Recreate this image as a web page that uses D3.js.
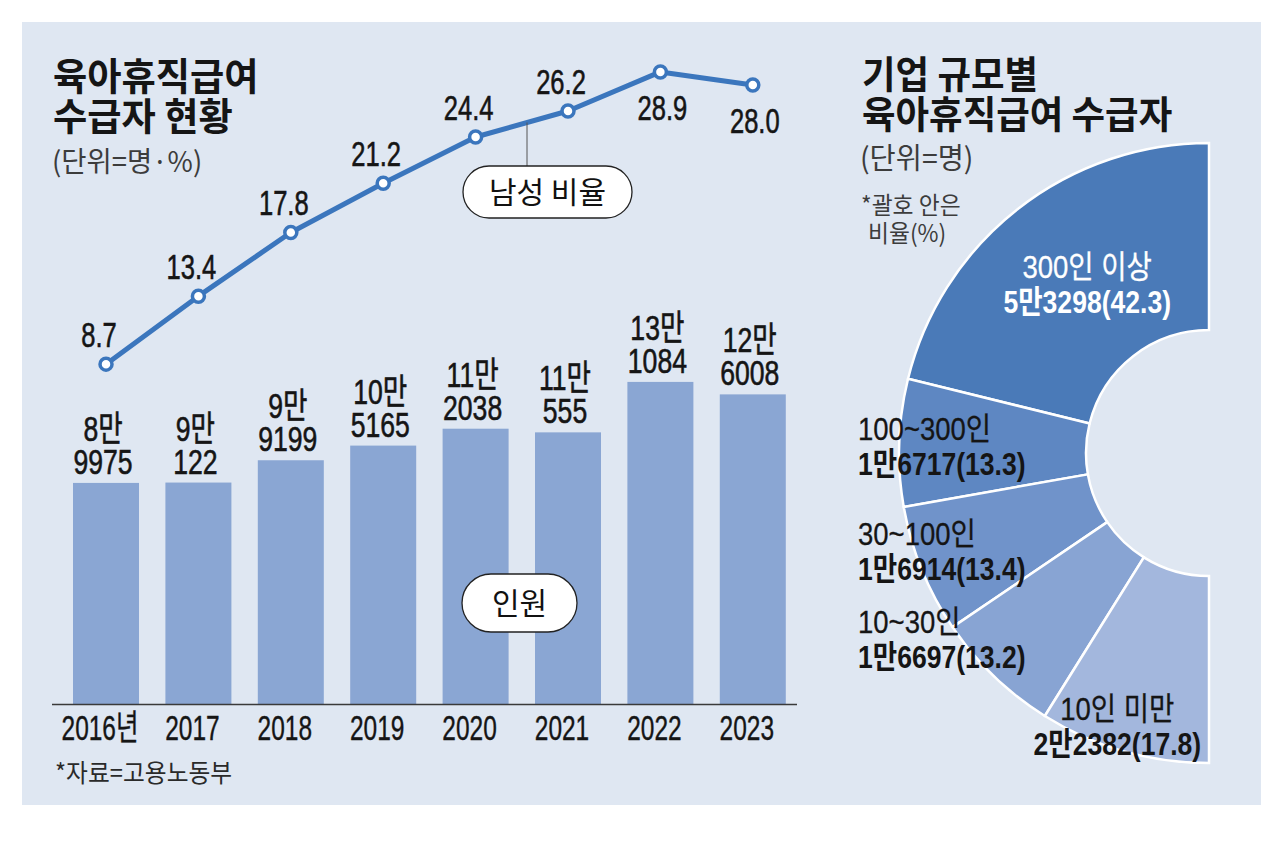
<!doctype html>
<html>
<head>
<meta charset="utf-8">
<script src="https://cdn.jsdelivr.net/npm/d3@7"></script>
<style>
  body { margin: 0; background: #fff; }
  svg { display: block; }
</style>
</head>
<body>
<script>
const years = ['2016년', '2017', '2018', '2019', '2020', '2021', '2022', '2023']
const recipients = [89975, 90122, 99199, 105165, 112038, 110555, 131084, 126008]
const maleShare = [8.7, 13.4, 17.8, 21.2, 24.4, 26.2, 28.9, 28.0]

const sizeGroups = ['300인 이상', '100~300인', '30~100인', '10~30인', '10인 미만']
const sizeCounts = [53298, 16717, 16914, 16697, 22382]
const sizeShares = [42.3, 13.3, 13.4, 13.2, 17.8]
const sizeColors = ['#4a7ab8', '#5e87c2', '#7093ca', '#88a4d3', '#a3b7dd']

const W = 1280, H = 865
const NUM = '"Liberation Sans", "Noto Sans CJK KR", sans-serif'
const KR = '"Noto Sans CJK KR", sans-serif'

const svg = d3.select('body').append('svg').attr('width', W).attr('height', H)

svg.append('rect')
  .attr('x', 22).attr('y', 22).attr('width', 1239).attr('height', 783)
  .attr('fill', '#dfe7f2')

// text helper: condensed look through horizontal scaling
function label (g, x, y, str, o = {}) {
  const fill = o.fill || '#151515'
  return g.append('text')
    .attr('transform', `translate(${x},${y}) scale(${o.sx || 1},1)`)
    .attr('text-anchor', o.anchor || 'middle')
    .attr('font-family', o.family || NUM)
    .attr('font-size', o.size || 30)
    .attr('font-weight', o.weight || 400)
    .attr('fill', fill)
    .attr('stroke', o.heavy ? fill : 'none')
    .attr('stroke-width', o.heavy || 0)
    .text(str)
}

function manFormat (v) {
  const man = Math.floor(v / 10000)
  const rest = v % 10000
  return [`${man}만`, `${rest}`]
}

// ---------- left: bars + line ----------
const left = svg.append('g')

const x = d3.scaleBand()
  .domain(years)
  .range([59.8, 799])
  .paddingInner(0.2857)
  .paddingOuter(0.143)
const bw = x.bandwidth()

const yBar = d3.scaleLinear().domain([0, 140000]).range([704, 360])
const yLine = d3.scaleLinear().domain([0, 30]).range([490, 56])

left.selectAll('rect.bar')
  .data(recipients)
  .join('rect')
  .attr('class', 'bar')
  .attr('x', (d, i) => x(years[i]))
  .attr('y', d => yBar(d))
  .attr('width', bw)
  .attr('height', d => yBar(0) - yBar(d))
  .attr('fill', '#8aa6d3')

left.append('line')
  .attr('x1', 52).attr('x2', 797)
  .attr('y1', yBar(0) + 0.5).attr('y2', yBar(0) + 0.5)
  .attr('stroke', '#3a3a3a').attr('stroke-width', 1.6)

recipients.forEach((d, i) => {
  const cx = x(years[i]) + bw / 2
  const [a, b] = manFormat(d)
  label(left, cx - 3, yBar(d) - 42, a, { size: 35, sx: 0.76, heavy: 0.6 })
  label(left, cx - 3, yBar(d) - 9, b, { size: 35, sx: 0.76, heavy: 0.6 })
  label(left, cx - 6, 740, years[i], { size: 35, sx: 0.7, heavy: 0.4 })
})

const lineGen = d3.line()
  .x((d, i) => x(years[i]) + bw / 2)
  .y(d => yLine(d))

left.append('path')
  .datum(maleShare)
  .attr('d', lineGen)
  .attr('fill', 'none')
  .attr('stroke', '#3b76bd')
  .attr('stroke-width', 5)
  .attr('stroke-linejoin', 'round')

// leader line for the "남성 비율" tag, hooked between 2020 and 2021
const tagX = 527
const i0 = 4, i1 = 5
const x0 = x(years[i0]) + bw / 2, x1 = x(years[i1]) + bw / 2
const tagLineY = yLine(maleShare[i0] + (maleShare[i1] - maleShare[i0]) * (tagX - x0) / (x1 - x0))
left.append('line')
  .attr('x1', tagX).attr('x2', tagX)
  .attr('y1', tagLineY).attr('y2', 166)
  .attr('stroke', '#555').attr('stroke-width', 1)

left.selectAll('circle.pt')
  .data(maleShare)
  .join('circle')
  .attr('class', 'pt')
  .attr('cx', (d, i) => x(years[i]) + bw / 2)
  .attr('cy', d => yLine(d))
  .attr('r', 6)
  .attr('fill', '#fff')
  .attr('stroke', '#3b76bd')
  .attr('stroke-width', 3.5)

maleShare.forEach((d, i) => {
  const cx = x(years[i]) + bw / 2
  const below = i >= 6
  const ty = below ? yLine(d) + 48 : yLine(d) - 17
  label(left, cx + (below ? 2 : -7), ty, d.toFixed(1), { size: 35, sx: 0.73, heavy: 0.6 })
})

function pill (g, px, py, w, h, str) {
  g.append('rect')
    .attr('x', px).attr('y', py).attr('width', w).attr('height', h)
    .attr('rx', h / 2)
    .attr('fill', '#fff').attr('stroke', '#222').attr('stroke-width', 1.3)
  label(g, px + w / 2, py + h / 2 + 11, str, { family: KR, size: 30, fill: '#111' })
}
pill(left, 463, 166, 169, 52, '남성 비율')
pill(left, 462, 574, 115, 58, '인원')

label(left, 53, 90, '육아휴직급여', { family: KR, size: 38, weight: 700, sx: 0.98, anchor: 'start' })
label(left, 53, 130, '수급자 현황', { family: KR, size: 38, weight: 700, sx: 0.98, anchor: 'start' })
label(left, 52, 172, '(단위=명·%)', { family: KR, size: 28, sx: 0.98, anchor: 'start', fill: '#3c3c3c' })
label(left, 55, 782, '*자료=고용노동부', { family: KR, size: 25, sx: 0.95, anchor: 'start', fill: '#2a2a2a' })

// ---------- right: half donut ----------
const right = svg.append('g')
const cx = 1209, cy = 453
const outer = 310, inner = 123

const pie = d3.pie().sort(null).startAngle(0).endAngle(-Math.PI)
const arcs = pie(sizeCounts)
const arc = d3.arc().innerRadius(inner).outerRadius(outer)

const donut = right.append('g').attr('transform', `translate(${cx},${cy})`)
donut.selectAll('path')
  .data(arcs)
  .join('path')
  .attr('d', arc)
  .attr('fill', (d, i) => sizeColors[i])
  .attr('stroke', '#fff')
  .attr('stroke-width', 2.5)

arcs.forEach((a, i) => {
  const mid = (a.startAngle + a.endAngle) / 2
  let lx, ly, anchor
  if (i === 0 || i === arcs.length - 1) {
    const r = i === 0 ? 217 : 282
    lx = cx + r * Math.sin(mid) + (i === 0 ? 12 : -14)
    ly = cy - r * Math.cos(mid)
    anchor = 'middle'
  } else {
    lx = cx - outer - 41
    ly = cy - 255 * Math.cos(mid)
    anchor = 'start'
  }
  const fill = i === 0 ? '#fff' : '#151515'
  const [m, r] = manFormat(sizeCounts[i])
  label(right, lx, ly - 4, sizeGroups[i], { size: 32, sx: 0.86, anchor, fill, heavy: 0.3 })
  label(right, lx, ly + 31, `${m}${r}(${sizeShares[i].toFixed(1)})`, { size: 32, sx: 0.83, anchor, fill, weight: 700 })
})

label(right, 862, 88, '기업 규모별', { family: KR, size: 38, weight: 700, sx: 0.96, anchor: 'start' })
label(right, 862, 128, '육아휴직급여 수급자', { family: KR, size: 38, weight: 700, sx: 0.96, anchor: 'start' })
label(right, 860, 169, '(단위=명)', { family: KR, size: 29, sx: 0.98, anchor: 'start', fill: '#3c3c3c' })
label(right, 861, 214, '*괄호 안은', { family: KR, size: 24, sx: 0.95, anchor: 'start', fill: '#3c3c3c' })
label(right, 868, 242, '비율(%)', { family: KR, size: 24, sx: 0.95, anchor: 'start', fill: '#3c3c3c' })
</script>
</body>
</html>
